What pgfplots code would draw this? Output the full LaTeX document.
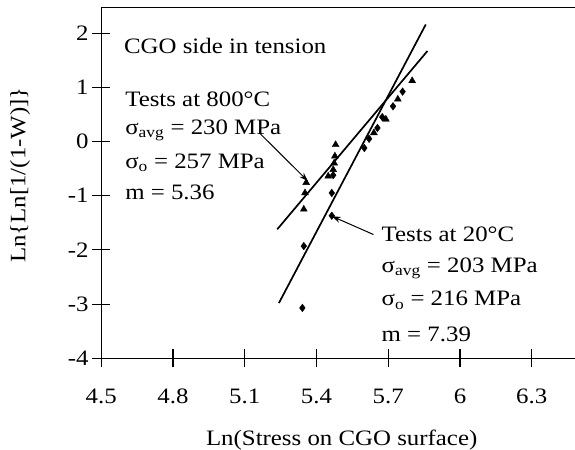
\documentclass[border=0pt]{standalone}
\usepackage{fontspec}
\setmainfont{Liberation Serif}[FakeStretch=1.13]
\usepackage{pgfplots}
\pgfplotsset{compat=1.18}
\usetikzlibrary{arrows.meta}
\newcommand\lbl{\fontsize{22bp}{26bp}\selectfont}

\begin{document}
\begin{tikzpicture}
\useasboundingbox (-101.2bp,-91.7bp) rectangle (473.8bp,358.3bp);
\begin{axis}[
  at={(0,0)}, anchor=south west,
  scale only axis, width=477.2bp, height=351bp,
  xmin=4.5, xmax=6.495, ymin=-4, ymax=2.476,
  xtick={4.5,4.8,5.1,5.4,5.7,6,6.3}, ytick={-4,-3,-2,-1,0,1,2},
  tick pos=left, tick align=center, major tick length=18bp,
  axis line style={line width=1.3bp},
  every tick/.style={black, line width=1.1bp},
  /pgf/number format/assume math mode=true,
  tick label style={font=\lbl},
  xticklabel style={yshift=-18bp},
  label style={font=\lbl},
  xlabel={Ln(Stress on CGO surface)},
  ylabel={Ln\{Ln[1/(1-W)]\}},
  xlabel style={at={(axis description cs:0.504,-0.232)}, anchor=center},
  ylabel style={at={(axis description cs:-0.170,0.522)}, anchor=center},
  clip=false,
]
% Weibull fit lines
\addplot[black, line width=1.7bp] coordinates {(5.243,-2.98) (5.857,2.16)};
\addplot[black, line width=1.7bp] coordinates {(5.236,-1.62) (5.864,1.67)};

% tests at 800 C
\addplot[only marks, mark=triangle*, mark size=4bp, black] coordinates {
  (5.347,-1.25) (5.352,-0.95) (5.357,-0.76) (5.449,-0.64) (5.470,-0.52)
  (5.474,-0.40) (5.477,-0.27) (5.480,-0.06) (5.640,0.16) (5.690,0.41)
  (5.740,0.78) (5.800,1.12)};

% tests at 20 C
\addplot[only marks, mark=diamond*, mark size=3.8bp, black] coordinates {
  (5.341,-3.07) (5.347,-1.93) (5.464,-1.37) (5.464,-0.95) (5.470,-0.62)
  (5.600,-0.12) (5.620,0.05) (5.655,0.25) (5.675,0.45) (5.720,0.65)
  (5.760,0.92)};

\node[anchor=west, font=\lbl] at (axis cs:4.581,1.76) {CGO side in tension};

\node[anchor=west, font=\lbl] at (axis cs:4.586,0.775) {Tests at 800°C};
\node[anchor=west, font=\lbl] at (axis cs:4.586,0.20) {σ\textsubscript{avg} = 230 MPa};
\node[anchor=west, font=\lbl] at (axis cs:4.586,-0.40) {σ\textsubscript{o} = 257 MPa};
\node[anchor=west, font=\lbl] at (axis cs:4.586,-0.941) {m = 5.36};

\node[anchor=west, font=\lbl] at (axis cs:5.658,-1.716) {Tests at 20°C};
\node[anchor=west, font=\lbl] at (axis cs:5.658,-2.34) {σ\textsubscript{avg} = 203 MPa};
\node[anchor=west, font=\lbl] at (axis cs:5.658,-2.93) {σ\textsubscript{o} = 216 MPa};
\node[anchor=west, font=\lbl] at (axis cs:5.658,-3.561) {m = 7.39};

\draw[black, line width=1bp, -{Stealth[length=9bp,width=6bp]}]
  (axis cs:5.161,0.16) -- (axis cs:5.364,-0.73);
\draw[black, line width=1bp, -{Stealth[length=9bp,width=6bp]}]
  (axis cs:5.638,-1.716) -- (axis cs:5.464,-1.378);
\end{axis}
\end{tikzpicture}
\end{document}
